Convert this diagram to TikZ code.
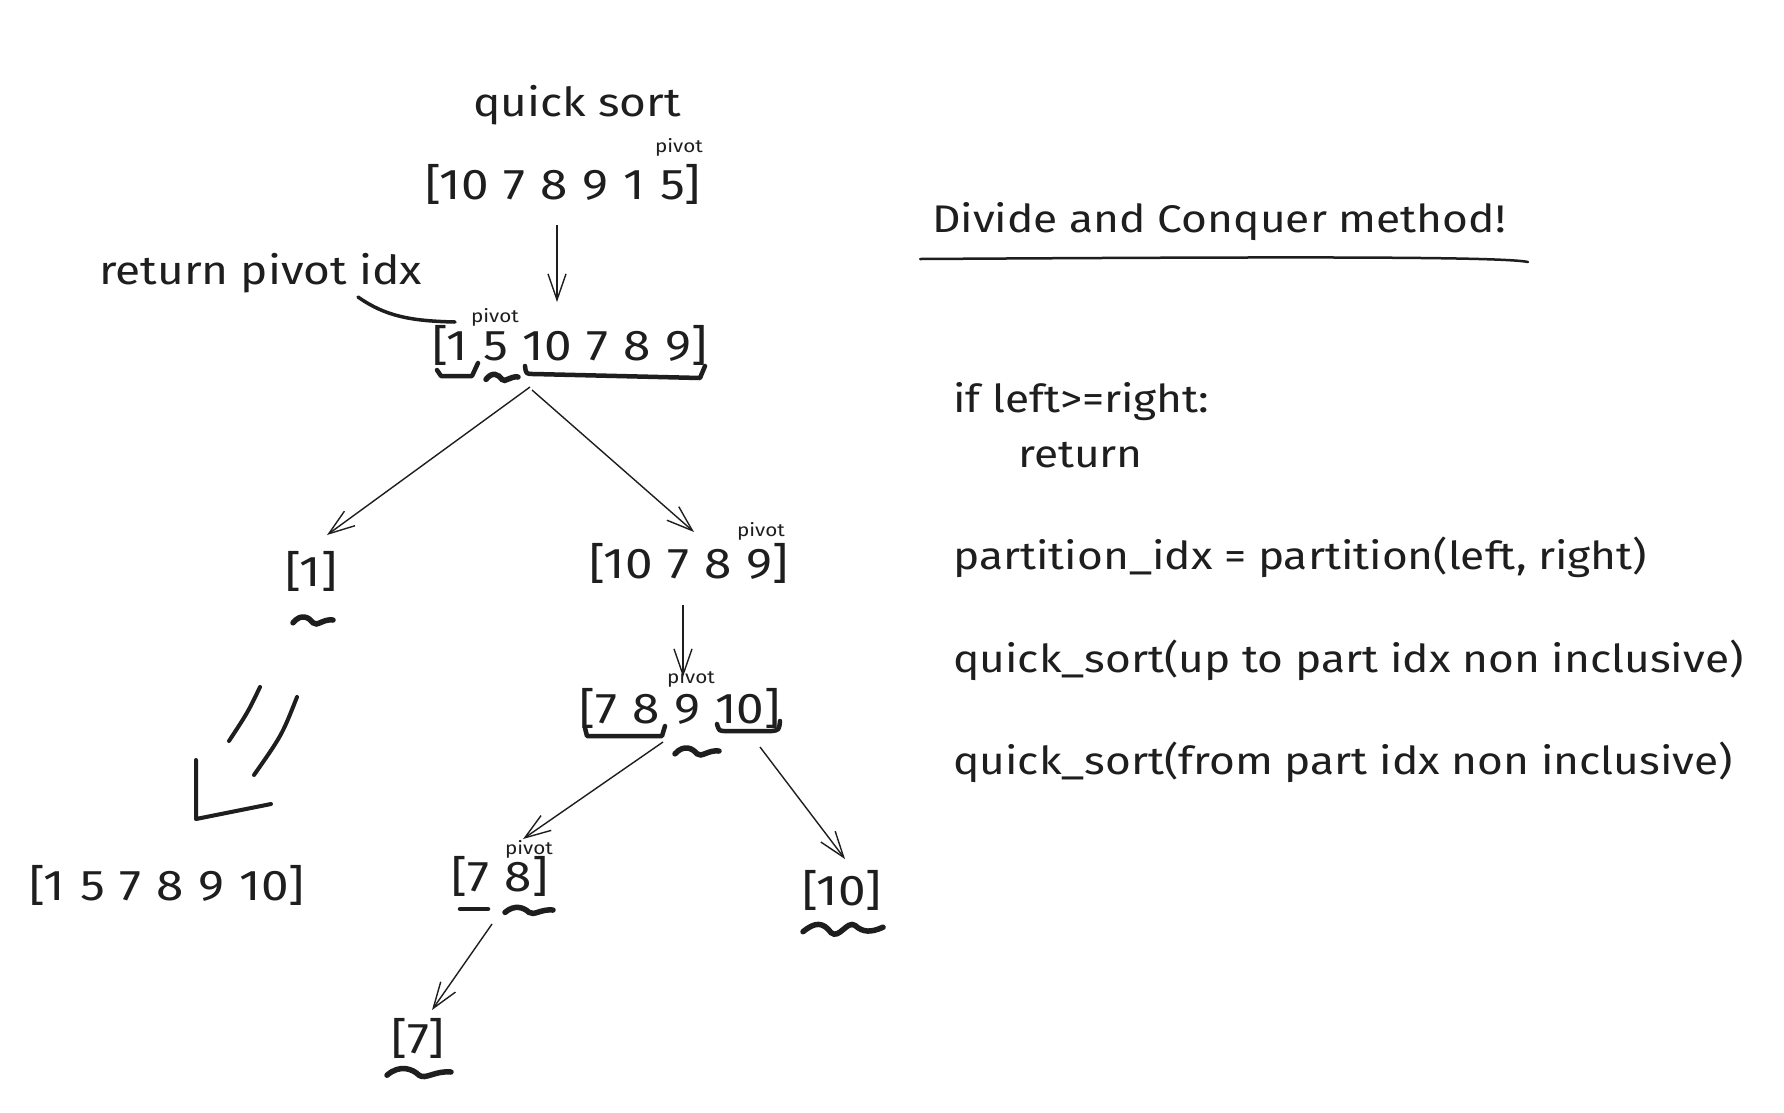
\documentclass[tikz,border=0pt]{standalone}
\usepackage{fontspec}
\setmainfont{Fira Sans}[FakeStretch=1.15]
\usetikzlibrary{arrows.meta,calc}
\definecolor{ink}{HTML}{1E1E1E}
\newcommand{\gp}{\hspace{15pt}}
\begin{document}
\begin{tikzpicture}[x=1pt,y=-1pt,
  big/.style={font=\fontsize{43}{48}\selectfont, inner sep=0pt, text=ink},
  head/.style={font=\fontsize{40}{46}\selectfont, inner sep=0pt, text=ink},
  code/.style={font=\fontsize{38.5}{44}\selectfont, inner sep=0pt, anchor=west, text=ink},
  piv/.style={font=\fontsize{18}{22}\selectfont, inner sep=0pt, text=ink},
  arr/.style={draw=ink, line width=1.4pt, -{Straight Barb[length=26pt,width=18pt]}},
  brk/.style={draw=ink, line width=4.5pt, line cap=round, line join=round},
  sq/.style={draw=ink, line width=5.5pt, line cap=round},
  stroke/.style={draw=ink, line width=4pt, line cap=round, line join=round},
  wave/.pic={\path[sq] (-1,0.4) .. controls (-0.6,-1) and (-0.2,-0.4) .. (0,0.4) .. controls (0.2,1) and (0.5,-0.2) .. (1,0);},
  wave2/.pic={\path[sq] (-1,0.3) .. controls (-0.7,-0.8) and (-0.5,-0.8) .. (-0.3,0.4) .. controls (-0.1,1.2) and (0.1,-1) .. (0.3,-0.4) .. controls (0.5,0.4) and (0.7,0.4) .. (1,-0.2);}
]
\useasboundingbox (0,0) rectangle (1784,1112);
\fill[white] (0,0) rectangle (1784,1112);

% titles
\node[head] (qs) at (577,105) {quick sort};
\node[head, anchor=west] (rp) at (99,273) {return pivot idx};

% arrays
\node[big] (s0) at (563,184) {[10\gp7\gp8\gp9\gp1\gp5]};
\node[big] (s1) at (570,345) {[1\gp5\gp10\gp7\gp8\gp9]};
\node[big] (s2) at (311,571) {[1]};
\node[big] (s3) at (689,563) {[10\gp7\gp8\gp9]};
\node[big] (s4) at (680,708) {[7\gp8\gp9\gp10]};
\node[big] (s5) at (500,876) {[7\gp8]};
\node[big] (s6) at (418,1038) {[7]};
\node[big] (s7) at (842,890) {[10]};
\node[big] (s8) at (167,885) {[1\gp5\gp7\gp8\gp9\gp10]};

% pivot labels
\node[piv] (p0) at (679,147) {pivot};
\node[piv] (p1) at (495,317) {pivot};
\node[piv] (p3) at (761,531) {pivot};
\node[piv] (p4) at (691,678) {pivot};
\node[piv] (p5) at (529,849) {pivot};

% right side text
\node[code, anchor=center] (title) at (1219,222) {Divide and Conquer method!};
\draw[ink, line width=2.5pt, line cap=round] (920,259) .. controls (1250,257) and (1500,256) .. (1528,262);
\node[code] (c1) at (953,402) {if left>=right:};
\node[code] (c2) at (1018,455) {return};
\node[code] (c3) at (953,557) {partition\_idx = partition(left, right)};
\node[code] (c4) at (953,660) {quick\_sort(up to part idx non inclusive)};
\node[code] (c5) at (953,762) {quick\_sort(from part idx non inclusive)};

% connector from label to pivot
\draw[ink, line width=3.5pt, line cap=round] (358,297) .. controls (385,316) and (410,321) .. ([shift={(-40,5)}]p1.center);

% arrows
\draw[arr] ([shift={(-6,41)}]s0.center) -- ([shift={(-13,-43)}]s1.center);
\draw[arr] ([shift={(-40,42)}]s1.center) -- ([shift={(16,-36)}]s2.center);
\draw[arr] ([shift={(-38,45)}]s1.center) -- ([shift={(5,-31)}]s3.center);
\draw[arr] ([shift={(-6,42)}]s3.center) -- ([shift={(3,-31)}]s4.center);
\draw[arr] ([shift={(-17,34)}]s4.center) -- ([shift={(23,-37)}]s5.center);
\draw[arr] ([shift={(80,39)}]s4.center) -- ([shift={(3,-31)}]s7.center);
\draw[arr] ([shift={(-8,48)}]s5.center) -- ([shift={(14,-28)}]s6.center);

% underbrackets
\draw[brk] (437,370) -- (441,376) -- (472,376) -- (478,363);
\draw[brk] (525,366) .. controls (526,374) .. (534,374) -- (700,378) -- (705,366);
\draw[brk] (585,728) -- (587,736) -- (662,736) -- (665,726);
\draw[brk] (717,724) .. controls (719,731) .. (726,731) -- (772,731) .. controls (779,730) .. (780,721);
\draw[brk] (460,909) -- (488,909);

% squiggles
\pic[xscale=16, yscale=6] at (502,377) {wave};
\pic[xscale=20, yscale=7] at (313,620) {wave};
\pic[xscale=22, yscale=7] at (697,751) {wave};
\pic[xscale=24, yscale=6] at (529,910) {wave};
\pic[xscale=40, yscale=9] at (843,929) {wave2};
\pic[xscale=32, yscale=8] at (419,1072) {wave};

% big hand-drawn arrow
\draw[stroke] (260,687) .. controls (248,712) .. (229,741);
\draw[stroke] (297,697) .. controls (282,735) .. (254,775);
\draw[stroke] (196,760) -- (196,819) -- (271,804);
\end{tikzpicture}
\end{document}
